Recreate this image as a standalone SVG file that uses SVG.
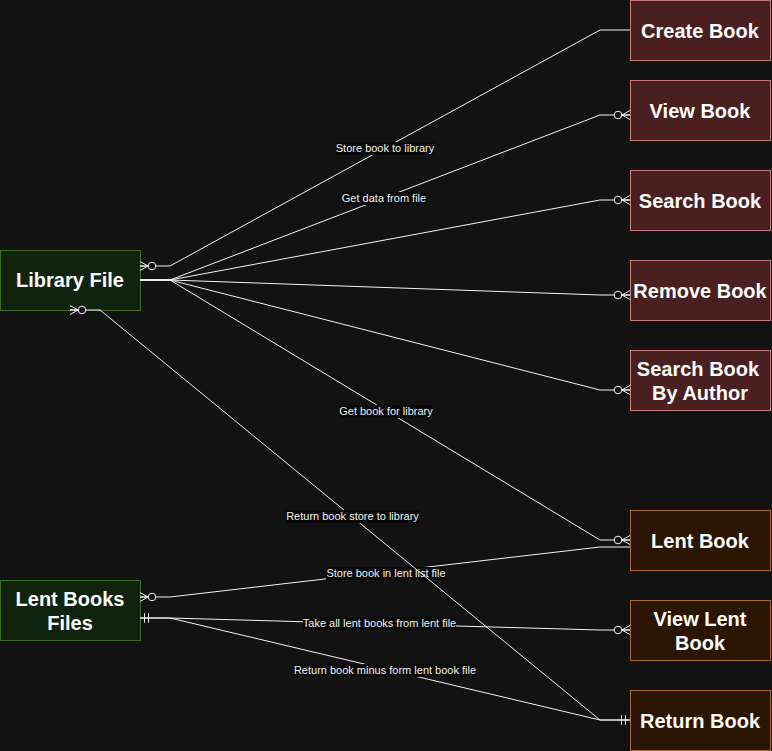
<svg xmlns="http://www.w3.org/2000/svg" width="772" height="751" viewBox="0 0 772 751">
<style>
.bg{fill:#121212}
.g rect{fill:#0f230f;stroke:#3d6b20;stroke-width:1}
.r rect{fill:#4a1f1f;stroke:#c97a7a;stroke-width:1}
.o rect{fill:#2b1500;stroke:#a86a2c;stroke-width:1}
.node text{font-family:"Liberation Sans",Arial,sans-serif;font-size:20px;font-weight:bold;fill:#ffffff;text-anchor:middle}
.e{fill:none;stroke:#f2f2f2;stroke-width:1}
.lb{fill:#0a0a0a}
.lt{font-family:"Liberation Sans",Arial,sans-serif;font-size:11px;fill:#f0f0f0;text-anchor:middle}
</style>
<defs>
<marker id="zm" markerUnits="userSpaceOnUse" orient="auto-start-reverse" viewBox="-18 -8 20 16" refX="0" refY="0" markerWidth="20" markerHeight="16" overflow="visible">
<path d="M-8,0 L0,-4.5 M-8,0 L0,4.5 M-8,0 L0,0" fill="none" stroke="#f2f2f2" stroke-width="1"/>
<circle cx="-12" cy="0" r="3.8" fill="#121212" stroke="#f2f2f2" stroke-width="1"/>
</marker>
<marker id="mo" markerUnits="userSpaceOnUse" orient="auto-start-reverse" viewBox="-14 -8 16 16" refX="0" refY="0" markerWidth="16" markerHeight="16" overflow="visible">
<path d="M-4.5,-4.5 L-4.5,4.5 M-8.5,-4.5 L-8.5,4.5" fill="none" stroke="#f2f2f2" stroke-width="1"/>
</marker>
</defs>
<rect class="bg" x="0" y="0" width="772" height="751"/>

<g id="library-file" class="node g"><rect x="0.5" y="250.5" width="140" height="60"/><text x="70" y="287">Library File</text></g>
<g id="lent-books-files" class="node g"><rect x="0.5" y="580.5" width="140" height="60"/><text x="70" y="606">Lent Books</text><text x="70" y="630">Files</text></g>
<g id="create-book" class="node r"><rect x="630.5" y="0.5" width="140" height="60"/><text x="700" y="38">Create Book</text></g>
<g id="view-book" class="node r"><rect x="630.5" y="80.5" width="140" height="60"/><text x="700" y="118">View Book</text></g>
<g id="search-book" class="node r"><rect x="630.5" y="170.5" width="140" height="60"/><text x="700" y="208">Search Book</text></g>
<g id="remove-book" class="node r"><rect x="630.5" y="260.5" width="140" height="60"/><text x="700" y="298">Remove Book</text></g>
<g id="search-book-by-author" class="node r"><rect x="630.5" y="350.5" width="140" height="60"/><text x="698" y="376">Search Book</text><text x="700" y="400">By Author</text></g>
<g id="lent-book" class="node o"><rect x="630.5" y="510.5" width="140" height="60"/><text x="700" y="548">Lent Book</text></g>
<g id="view-lent-book" class="node o"><rect x="630.5" y="600.5" width="140" height="60"/><text x="700" y="626">View Lent</text><text x="700" y="650">Book</text></g>
<g id="return-book" class="node o"><rect x="630.5" y="690.5" width="140" height="60"/><text x="700" y="728">Return Book</text></g>

<g id="connectors">
<g id="e1">
<path class="e" d="M140,266 L170,266 L600,30 L630,30" marker-start="url(#zm)"/>
<rect class="lb" x="336" y="142" width="98" height="13"/>
<text class="lt" x="385" y="152">Store book to library</text>
</g>
<g id="e2">
<path class="e" d="M140,280 L170,280 L600,115 L630,115" marker-end="url(#zm)"/>
<rect class="lb" x="342" y="192" width="85" height="13"/>
<text class="lt" x="384" y="202">Get data from file</text>
</g>
<g id="e3">
<path class="e" d="M140,280 L170,280 L600,200 L630,200" marker-end="url(#zm)"/>
</g>
<g id="e4">
<path class="e" d="M140,280 L170,280 L600,295 L630,295" marker-end="url(#zm)"/>
</g>
<g id="e5">
<path class="e" d="M140,280 L170,280 L600,390 L630,390" marker-end="url(#zm)"/>
</g>
<g id="e6">
<path class="e" d="M140,280 L170,280 L600,540 L630,540" marker-end="url(#zm)"/>
<rect class="lb" x="339" y="405" width="94" height="13"/>
<text class="lt" x="386" y="415">Get book for library</text>
</g>
<g id="e8">
<path class="e" d="M140,597 L170,597 L600,547 L630,547" marker-start="url(#zm)"/>
<rect class="lb" x="326" y="567" width="120" height="13"/>
<text class="lt" x="386" y="577">Store book in lent list file</text>
</g>
<g id="e9">
<path class="e" d="M140,618 L170,618 L600,630 L630,630" marker-start="url(#mo)" marker-end="url(#zm)"/>
<rect class="lb" x="303" y="617" width="153" height="13"/>
<text class="lt" x="379.5" y="627">Take all lent books from lent file</text>
</g>
<g id="e10">
<path class="e" d="M140,618 L170,618 L600,720 L630,720" marker-start="url(#mo)" marker-end="url(#mo)"/>
<rect class="lb" x="293" y="664" width="184" height="13"/>
<text class="lt" x="385" y="674">Return book minus form lent book file</text>
</g>
<g id="e7">
<path class="e" d="M70,310 L100,310 L600,720 L630,720" marker-start="url(#zm)" marker-end="url(#mo)"/>
<rect class="lb" x="286" y="510" width="133" height="13"/>
<text class="lt" x="352.5" y="520">Return book store to library</text>
</g>
</g>
</svg>
